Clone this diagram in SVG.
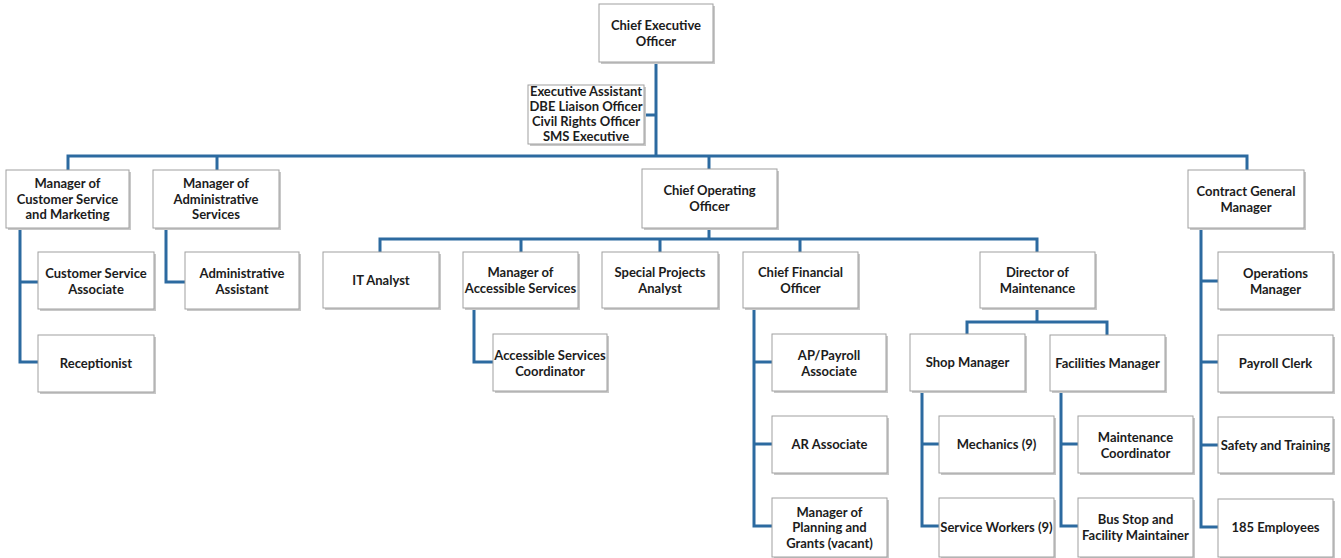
<svg xmlns="http://www.w3.org/2000/svg" width="1341" height="558" viewBox="0 0 1341 558">
<style>
.bg{fill:#fff}
.sh{fill:#c8c8c8}
.box{fill:#fff;stroke:#a0a0a0;stroke-width:1}
.t{font-family:Lato,"Open Sans","Liberation Sans",sans-serif;font-weight:700;font-size:13px;fill:#1c1c1c;text-anchor:middle}
.c{fill:none;stroke:#2c6aa0;stroke-width:3;stroke-linejoin:miter;stroke-linecap:butt}
</style>
<rect class="bg" x="0" y="0" width="1341" height="558"/>
<g id="connectors">
<path class="c" d="M656 62V156"/>
<path class="c" d="M644 115H656"/>
<path class="c" d="M68 170V156H1247V170"/>
<path class="c" d="M217 156V170"/>
<path class="c" d="M709 156V169"/>
<path class="c" d="M20 228V362H38M20 282H38"/>
<path class="c" d="M166 228V282H185"/>
<path class="c" d="M709 228V239"/>
<path class="c" d="M380 252V239H1037V252M521 239V252M660 239V252M800 239V252"/>
<path class="c" d="M474 308V362H493"/>
<path class="c" d="M754 308V526H772M754 362H772M754 444H772"/>
<path class="c" d="M1037 308V322M967 334V322H1107V335"/>
<path class="c" d="M922 391V526H939M922 444H939"/>
<path class="c" d="M1061 391V526H1078M1061 444H1078"/>
<path class="c" d="M1201 228V527H1218M1201 281H1218M1201 362H1218M1201 445H1218"/>
</g>
<g id="ceo"><rect class="sh" x="601" y="6" width="114" height="58"/><rect class="box" x="599" y="4" width="114" height="58"/><text class="t" x="656" y="30">Chief Executive</text><text class="t" x="656" y="46">Officer</text></g>
<g id="exec"><rect class="sh" x="530" y="87" width="116" height="59"/><rect class="box" x="528" y="85" width="116" height="59"/><text class="t" x="586" y="96">Executive Assistant</text><text class="t" x="586" y="111">DBE Liaison Officer</text><text class="t" x="586" y="126">Civil Rights Officer</text><text class="t" x="586" y="141">SMS Executive</text></g>
<g id="cs"><rect class="sh" x="8" y="172" width="123" height="58"/><rect class="box" x="6" y="170" width="123" height="58"/><text class="t" x="67.5" y="188">Manager of</text><text class="t" x="67.5" y="203.5">Customer Service</text><text class="t" x="67.5" y="219">and Marketing</text></g>
<g id="adm"><rect class="sh" x="155" y="172" width="126" height="58"/><rect class="box" x="153" y="170" width="126" height="58"/><text class="t" x="216" y="188">Manager of</text><text class="t" x="216" y="203.5">Administrative</text><text class="t" x="216" y="219">Services</text></g>
<g id="coo"><rect class="sh" x="644" y="171" width="135" height="59"/><rect class="box" x="642" y="169" width="135" height="59"/><text class="t" x="709.5" y="195">Chief Operating</text><text class="t" x="709.5" y="211">Officer</text></g>
<g id="cgm"><rect class="sh" x="1190" y="172" width="116" height="58"/><rect class="box" x="1188" y="170" width="116" height="58"/><text class="t" x="1246" y="196">Contract General</text><text class="t" x="1246" y="212">Manager</text></g>
<g id="csa"><rect class="sh" x="40" y="254" width="116" height="57"/><rect class="box" x="38" y="252" width="116" height="57"/><text class="t" x="96" y="278">Customer Service</text><text class="t" x="96" y="294">Associate</text></g>
<g id="rec"><rect class="sh" x="40" y="337" width="116" height="57"/><rect class="box" x="38" y="335" width="116" height="57"/><text class="t" x="96" y="368">Receptionist</text></g>
<g id="aa"><rect class="sh" x="187" y="254" width="114" height="57"/><rect class="box" x="185" y="252" width="114" height="57"/><text class="t" x="242" y="278">Administrative</text><text class="t" x="242" y="294">Assistant</text></g>
<g id="ita"><rect class="sh" x="325" y="254" width="116" height="56"/><rect class="box" x="323" y="252" width="116" height="56"/><text class="t" x="381" y="285">IT Analyst</text></g>
<g id="mas"><rect class="sh" x="465" y="254" width="115" height="56"/><rect class="box" x="463" y="252" width="115" height="56"/><text class="t" x="520.5" y="277">Manager of</text><text class="t" x="520.5" y="293">Accessible Services</text></g>
<g id="spa"><rect class="sh" x="604" y="254" width="116" height="56"/><rect class="box" x="602" y="252" width="116" height="56"/><text class="t" x="660" y="277">Special Projects</text><text class="t" x="660" y="293">Analyst</text></g>
<g id="cfo"><rect class="sh" x="745" y="254" width="115" height="56"/><rect class="box" x="743" y="252" width="115" height="56"/><text class="t" x="800.5" y="277">Chief Financial</text><text class="t" x="800.5" y="293">Officer</text></g>
<g id="dom"><rect class="sh" x="982" y="254" width="115" height="56"/><rect class="box" x="980" y="252" width="115" height="56"/><text class="t" x="1037.5" y="277">Director of</text><text class="t" x="1037.5" y="293">Maintenance</text></g>
<g id="asc"><rect class="sh" x="495" y="336" width="114" height="57"/><rect class="box" x="493" y="334" width="114" height="57"/><text class="t" x="550" y="360">Accessible Services</text><text class="t" x="550" y="376">Coordinator</text></g>
<g id="app"><rect class="sh" x="774" y="336" width="114" height="57"/><rect class="box" x="772" y="334" width="114" height="57"/><text class="t" x="829" y="360">AP/Payroll</text><text class="t" x="829" y="376">Associate</text></g>
<g id="ar"><rect class="sh" x="774" y="418" width="115" height="57"/><rect class="box" x="772" y="416" width="115" height="57"/><text class="t" x="829.5" y="449">AR Associate</text></g>
<g id="mpg"><rect class="sh" x="774" y="500" width="115" height="59"/><rect class="box" x="772" y="498" width="115" height="59"/><text class="t" x="829.5" y="516.5">Manager of</text><text class="t" x="829.5" y="532">Planning and</text><text class="t" x="829.5" y="547.5">Grants (vacant)</text></g>
<g id="shop"><rect class="sh" x="912" y="336" width="115" height="57"/><rect class="box" x="910" y="334" width="115" height="57"/><text class="t" x="967.5" y="367">Shop Manager</text></g>
<g id="fac"><rect class="sh" x="1052" y="337" width="115" height="56"/><rect class="box" x="1050" y="335" width="115" height="56"/><text class="t" x="1107.5" y="368">Facilities Manager</text></g>
<g id="mech"><rect class="sh" x="941" y="418" width="115" height="57"/><rect class="box" x="939" y="416" width="115" height="57"/><text class="t" x="996.5" y="449">Mechanics (9)</text></g>
<g id="sw"><rect class="sh" x="941" y="500" width="115" height="59"/><rect class="box" x="939" y="498" width="115" height="59"/><text class="t" x="996.5" y="532">Service Workers (9)</text></g>
<g id="mc"><rect class="sh" x="1080" y="418" width="115" height="57"/><rect class="box" x="1078" y="416" width="115" height="57"/><text class="t" x="1135.5" y="442">Maintenance</text><text class="t" x="1135.5" y="458">Coordinator</text></g>
<g id="bus"><rect class="sh" x="1080" y="500" width="115" height="59"/><rect class="box" x="1078" y="498" width="115" height="59"/><text class="t" x="1135.5" y="524">Bus Stop and</text><text class="t" x="1135.5" y="540">Facility Maintainer</text></g>
<g id="ops"><rect class="sh" x="1220" y="254" width="115" height="57"/><rect class="box" x="1218" y="252" width="115" height="57"/><text class="t" x="1275.5" y="278">Operations</text><text class="t" x="1275.5" y="294">Manager</text></g>
<g id="pc"><rect class="sh" x="1220" y="337" width="115" height="57"/><rect class="box" x="1218" y="335" width="115" height="57"/><text class="t" x="1275.5" y="368">Payroll Clerk</text></g>
<g id="st"><rect class="sh" x="1220" y="419" width="115" height="56"/><rect class="box" x="1218" y="417" width="115" height="56"/><text class="t" x="1275.5" y="449.5">Safety and Training</text></g>
<g id="emp"><rect class="sh" x="1220" y="501" width="115" height="58"/><rect class="box" x="1218" y="499" width="115" height="58"/><text class="t" x="1275.5" y="532">185 Employees</text></g>
</svg>
